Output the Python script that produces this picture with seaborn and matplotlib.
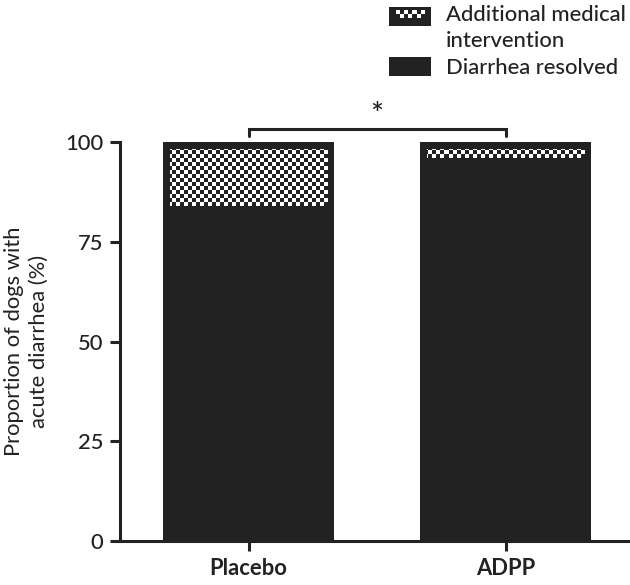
import numpy as np
import matplotlib
matplotlib.use("Agg")
import matplotlib.pyplot as plt
import seaborn as sns
from matplotlib.patches import Rectangle
from matplotlib.colors import ListedColormap
from matplotlib.legend_handler import HandlerBase

# ---- data ----
groups = ["Placebo", "ADPP"]
resolved = [84, 96]
additional = [16, 4]
yticks = [0, 25, 50, 75, 100]
legend_labels = ["Additional medical\nintervention", "Diarrhea resolved"]
signif_label = "*"
ylabel = "Proportion of dogs with\nacute diarrhea (%)"

DARK = "#222222"
FS = 15.8
sns.set_theme(style="ticks")
plt.rcParams["font.family"] = ["Lato", "DejaVu Sans"]
plt.rcParams["font.weight"] = "medium"
plt.rcParams["text.color"] = DARK
plt.rcParams["axes.labelcolor"] = DARK
plt.rcParams["xtick.color"] = DARK
plt.rcParams["ytick.color"] = DARK

total = [r + a for r, a in zip(resolved, additional)]

fig = plt.figure(figsize=(6.3, 5.85), dpi=100)
ax = fig.add_axes([120 / 630, 1 - 541 / 585, (629 - 120) / 630, (541 - 142) / 585])

BW = 0.665
sns.barplot(x=groups, y=total, color="white", saturation=1, width=BW, ax=ax)
sns.barplot(x=groups, y=resolved, color=DARK, saturation=1, width=BW, ax=ax)

xlim = (-0.5, 1.48)
ylim = (0, 100)
ax.set_xlim(*xlim)
ax.set_ylim(*ylim)

# checker texture (fill pattern) clipped to the total bars
nx, ny = 127, 100
chk = np.add.outer(np.arange(ny), np.arange(nx)) % 2
cmap = ListedColormap(["white", DARK])
for p in ax.containers[0]:
    im = ax.imshow(chk, cmap=cmap, extent=(*xlim, *ylim), aspect="auto",
                   interpolation="nearest", origin="lower", zorder=1)
    im.set_clip_path(p)
    p.set_facecolor("none")
    p.set_edgecolor(DARK)
    p.set_linewidth(9.4)
    p.set_clip_path(p)
    p.set_zorder(3)
for p in ax.containers[1]:
    p.set_linewidth(0)
    p.set_zorder(2)
ax.set_xlim(*xlim)
ax.set_ylim(*ylim)

ax.set_yticks(yticks)
ax.set_yticklabels([str(t) for t in yticks])
sns.despine(ax=ax)
for s in ["left", "bottom"]:
    ax.spines[s].set_linewidth(2.2)
    ax.spines[s].set_color(DARK)
    ax.spines[s].set_zorder(4)
ax.tick_params(axis="both", length=7, width=2.2, direction="out", labelsize=FS, pad=5)
for lab in ax.get_xticklabels():
    lab.set_fontweight("bold")
ax.set_xlabel("")
ax.set_ylabel(ylabel, fontsize=FS, labelpad=12, linespacing=1.3)

# significance bracket
ax.plot([0, 0, 1, 1], [101.5, 103.3, 103.3, 101.5], color=DARK, lw=2.2,
        clip_on=False, solid_joinstyle="miter")
ax.text(0.5, 103.2, signif_label, ha="center", va="bottom", fontsize=22, color=DARK)


class CheckerHandler(HandlerBase):
    def __init__(self, shift=0.0):
        super().__init__()
        self.shift = shift

    def create_artists(self, legend, orig_handle, xdescent, ydescent, width,
                       height, fontsize, trans):
        x0, y0 = -xdescent, -ydescent + self.shift * fontsize
        arts = [Rectangle((x0, y0), width, height, facecolor=DARK,
                          edgecolor="none", transform=trans)]
        iw = width * 0.70
        ix = x0 + width * 0.16
        ih = height * 0.42
        iy = y0 + height * 0.84 - ih
        nr = 2
        sq = ih / nr
        nc = int(round(iw / sq))
        sqx = iw / nc
        arts.append(Rectangle((ix, iy), iw, ih, facecolor="white",
                              edgecolor="none", transform=trans))
        for r in range(nr):
            for c in range(nc):
                if (r + c) % 2 == 0:
                    arts.append(Rectangle((ix + c * sqx, iy + r * sq), sqx, sq,
                                          facecolor=DARK, edgecolor="none",
                                          transform=trans))
        return arts


checker_proxy = Rectangle((0, 0), 1, 1)
solid_proxy = Rectangle((0, 0), 1, 1, facecolor=DARK, edgecolor="none")
leg = fig.legend([checker_proxy, solid_proxy], legend_labels,
                 handler_map={checker_proxy: CheckerHandler(shift=0.55)},
                 loc="upper left", bbox_to_anchor=(389 / 630, 1 - 5 / 585),
                 frameon=False, fontsize=FS, handlelength=1.9, handleheight=0.95,
                 handletextpad=0.68, borderpad=0, borderaxespad=0, labelspacing=0.3)
for t in leg.get_texts():
    t.set_linespacing(1.35)

fig.savefig("out.png", dpi=100)
